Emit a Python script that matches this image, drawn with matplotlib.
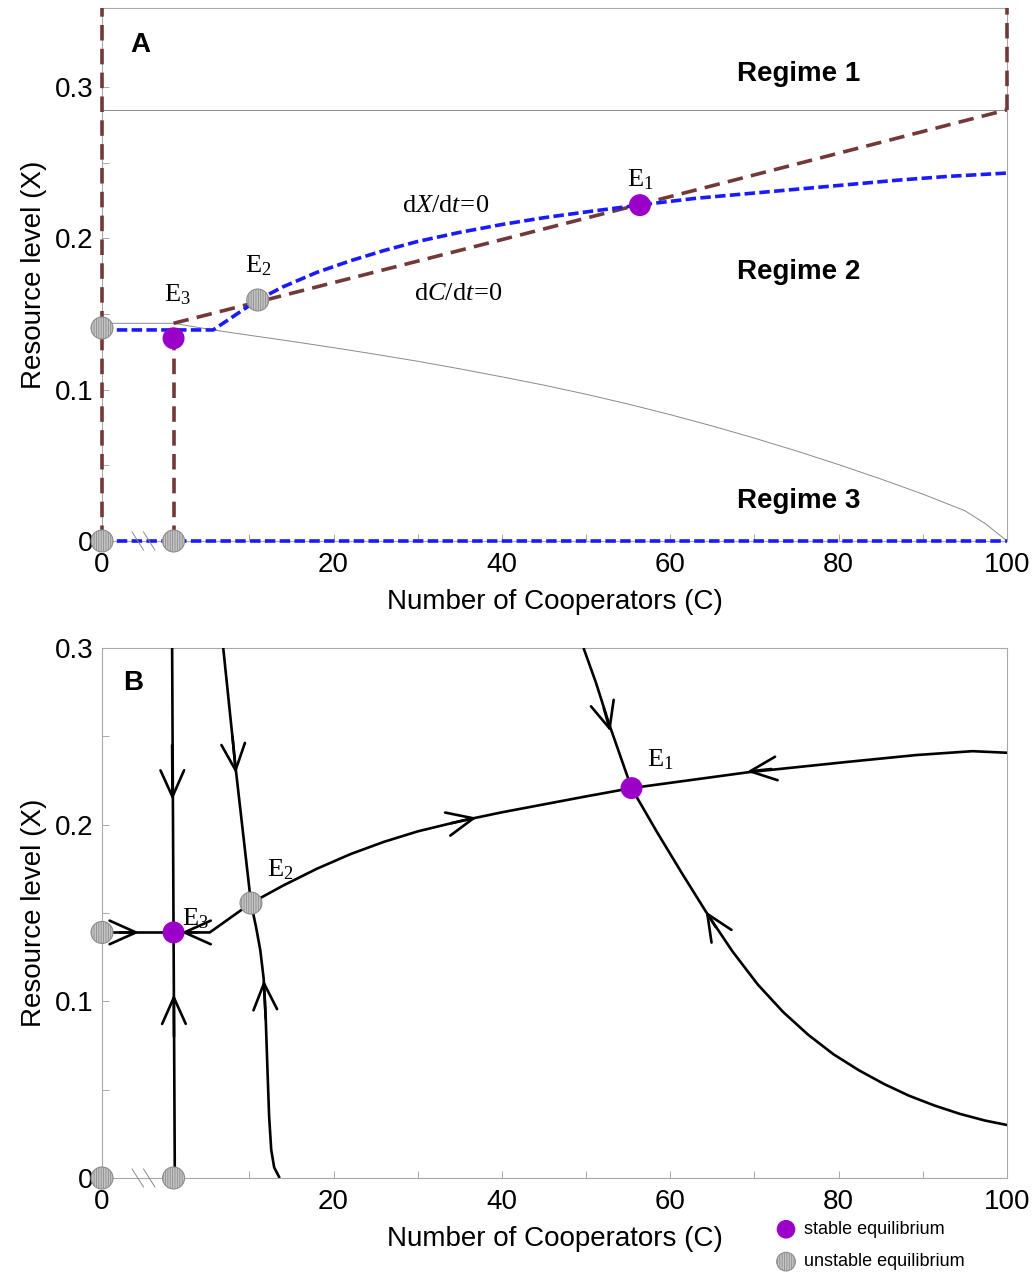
import numpy as np
import matplotlib
matplotlib.use('Agg')
import matplotlib.pyplot as plt

plt.rcParams['font.family'] = ['Liberation Sans', 'DejaVu Sans']
plt.rcParams['mathtext.fontset'] = 'custom'
plt.rcParams['mathtext.rm'] = 'Liberation Serif'
plt.rcParams['mathtext.it'] = 'Liberation Serif:italic'
plt.rcParams['hatch.linewidth'] = 0.6

# ---------------- data ----------------
# panel A: nullclines
dcdt_C = [1, 11.0, 56.4, 100]
dcdt_X = [0.1439, 0.158, 0.2225, 0.285]

dxdt_C = [0, 1, 5.7, 11.0, 14, 18, 22, 26, 30, 35, 40, 45, 50, 56.4,
          63, 70, 75, 80, 87, 93, 100]
dxdt_X = [0.1395, 0.1395, 0.1395, 0.1593, 0.1680, 0.1775, 0.1852, 0.1920,
          0.1980, 0.2040, 0.2092, 0.2137, 0.2175, 0.2221, 0.2265, 0.2300,
          0.2325, 0.2350, 0.2385, 0.2410, 0.2432]

bound_C = [0, 1, 5.7, 10, 15, 20, 25, 30, 35, 40, 45, 50, 55, 60, 65, 70,
           75, 80, 85, 90, 95, 97.5, 100]
bound_X = [0.1439, 0.1439, 0.1395, 0.1360, 0.1320, 0.1278, 0.1234, 0.1188,
           0.1138, 0.1085, 0.1030, 0.0970, 0.0905, 0.0835, 0.0760, 0.0680,
           0.0595, 0.0505, 0.0410, 0.0310, 0.0200, 0.0112, 0.0]
regime12_X = 0.285

# panel A equilibria
stableA_C = [1, 56.4]
stableA_X = [0.134, 0.222]
unstableA_C = [0, 0, 1, 11.0]
unstableA_X = [0.1408, 0.0, 0.0, 0.1593]

# panel B trajectories
tr_left_C, tr_left_X = [0, 1], [0.139, 0.139]
tr_e3e2_C, tr_e3e2_X = [1, 5.3, 10.2], [0.139, 0.139, 0.1556]
tr_vert_C, tr_vert_X = [0.98, 1.0, 1.15], [0.3, 0.139, 0.0]
tr_e2v_C = [6.9, 8.4, 10.2, 10.8, 11.3, 11.7, 11.95, 12.15, 12.35, 12.6,
            12.95, 13.6]
tr_e2v_X = [0.3, 0.231, 0.1556, 0.1420, 0.1290, 0.1130, 0.0900, 0.0620,
            0.0350, 0.0160, 0.0060, 0.0]
tr_e2e1_C = [10.2, 14, 18, 22, 26, 30, 35, 40, 45, 50, 55.4]
tr_e2e1_X = [0.1556, 0.1655, 0.1750, 0.1833, 0.1903, 0.1962, 0.2020, 0.2070,
             0.2115, 0.2160, 0.2207]
tr_right_C = [100, 95.9, 89.2, 81.2, 69.3, 55.4]
tr_right_X = [0.2407, 0.2416, 0.2394, 0.2356, 0.2297, 0.2207]
tr_top_C = [49.7, 51.2, 52.7, 55.4]
tr_top_X = [0.3, 0.28, 0.2575, 0.2207]
tr_low_C = [55.4, 58.4, 61.4, 64.4, 67.4, 70.4, 73.4, 76.4, 79.4, 82.4,
            85.4, 88.4, 91.4, 94.4, 97.4, 100]
tr_low_X = [0.2207, 0.1960, 0.1724, 0.1495, 0.1282, 0.1095, 0.0940, 0.0810,
            0.0700, 0.0610, 0.0532, 0.0465, 0.0410, 0.0363, 0.0325, 0.0300]

# arrows: tail C, tail X, head C, head X
arrows = [
    (0.98, 0.245, 0.985, 0.214),
    (1.05, 0.08, 1.03, 0.104),
    (0.25, 0.139, 0.52, 0.139),
    (3.8, 0.139, 1.9, 0.139),
    (8.0, 0.25, 8.4, 0.229),
    (11.95, 0.09, 11.72, 0.112),
    (34.0, 0.2008, 37.0, 0.2040),
    (72.0, 0.2315, 69.1, 0.2300),
    (52.1, 0.266, 52.9, 0.2527),
    (65.4, 0.1420, 64.2, 0.1510),
]

stableB_C = [1, 55.4]
stableB_X = [0.139, 0.2207]
unstableB_C = [0, 0, 1, 10.2]
unstableB_X = [0.139, 0.0, 0.0, 0.1556]

x_ticks = [0, 20, 40, 60, 80, 100]
x_minor = [10, 30, 50, 70, 90]
y_ticks = [0, 0.1, 0.2, 0.3]
y_ticklabels = ['0', '0.1', '0.2', '0.3']
y_minor = [0.05, 0.15, 0.25]

# ---------------- styles ----------------
BROWN = '#733838'
BLUE = '#1a1aff'
PURPLE = '#9a00c8'
GREY = '#8a8a8a'
SPINE = '#a8a8a8'

# broken x axis: the 0..1 stretch is widened
K = 8.5


def fwd(c):
    c = np.asarray(c, dtype=float)
    return np.where(c <= 1, K * c, K + c - 1)


def inv(v):
    v = np.asarray(v, dtype=float)
    return np.where(v <= K, v / K, v - K + 1)


def style_axes(ax, ytop):
    ax.set_xscale('function', functions=(fwd, inv))
    ax.set_xlim(0, 100)
    ax.set_ylim(0, ytop)
    ax.set_xticks(x_ticks)
    ax.set_xticklabels([str(t) for t in x_ticks])
    ax.set_xticks(x_minor, minor=True)
    ax.set_yticks(y_ticks)
    ax.set_yticklabels(y_ticklabels)
    ax.set_yticks(y_minor, minor=True)
    ax.tick_params(which='both', direction='in', color=SPINE, width=0.7,
                   labelsize=20, length=5)
    ax.tick_params(axis='x', pad=8)
    ax.tick_params(axis='y', pad=6)
    for s in ax.spines.values():
        s.set_color(SPINE)
        s.set_linewidth(0.8)
    ax.set_xlabel('Number of Cooperators (C)', fontsize=20, labelpad=8)
    ax.set_ylabel('Resource level (X)', fontsize=20, labelpad=6)
    # axis break marks
    for c0 in (0.42, 0.58):
        ax.plot([c0, c0 + 0.16], [ytop * 0.017, -ytop * 0.017], color=GREY,
                lw=0.7, clip_on=False, zorder=6)


def equilibria(ax, sc, sx, uc, ux, labels=True):
    ax.scatter(uc, ux, s=250, facecolor='#c4c4c4', edgecolor='#8c8c8c',
               hatch='|||||||', linewidths=0.8, zorder=10, clip_on=False,
               label='unstable equilibrium' if labels else None)
    ax.scatter(sc, sx, s=250, color=PURPLE, edgecolor='none', zorder=11,
               clip_on=False, label='stable equilibrium' if labels else None)


fig = plt.figure(figsize=(10.35, 12.79), dpi=100)
axA = fig.add_axes([102 / 1035, 1 - 541 / 1279, 905 / 1035, 533 / 1279])
axB = fig.add_axes([102 / 1035, 1 - 1178 / 1279, 905 / 1035, 530 / 1279])

# ---------------- panel A ----------------
topA = 0.3523
style_axes(axA, topA)
axA.axhline(regime12_X, color=GREY, lw=0.7, zorder=2)
axA.plot(bound_C, bound_X, color=GREY, lw=0.7, zorder=2)
axA.plot([0, 100], [0, 0], color=BLUE, lw=2.6, dashes=(2.9, 1.2), zorder=4,
         clip_on=False)
axA.plot(dxdt_C, dxdt_X, color=BLUE, lw=2.6, dashes=(2.9, 1.2), zorder=4)
axA.plot(dcdt_C, dcdt_X, color=BROWN, lw=2.6, dashes=(4.3, 2.3), zorder=3)
axA.plot([0, 0], [0, topA], color=BROWN, lw=2.6, dashes=(4.3, 2.3), zorder=3,
         clip_on=False)
axA.plot([1, 1], [0, stableA_X[0]], color=BROWN, lw=2.6, dashes=(4.3, 2.3),
         zorder=3)
axA.plot([100, 100], [regime12_X, topA], color=BROWN, lw=2.6,
         dashes=(4.3, 2.3), zorder=3, clip_on=False)
equilibria(axA, stableA_C, stableA_X, unstableA_C, unstableA_X, labels=False)

serif = dict(fontsize=19, ha='center', va='center')
axA.text(56.4, 0.2386, r'$\mathrm{E}_1$', **serif)
axA.text(11.1, 0.1818, r'$\mathrm{E}_2$', **serif)
axA.text(1.5, 0.1626, r'$\mathrm{E}_3$', **serif)
axA.text(33.3, 0.222, r'$\mathrm{d}X/\mathrm{d}t\!=\!0$', **serif)
axA.text(34.8, 0.164, r'$\mathrm{d}C/\mathrm{d}t\!=\!0$', **serif)
for lbl, y in [('Regime 1', 0.309), ('Regime 2', 0.1778), ('Regime 3', 0.0264)]:
    axA.text(75.3, y, lbl, fontsize=20, fontweight='bold', ha='center',
             va='center')
axA.text(0.042, 0.93, 'A', transform=axA.transAxes, fontsize=20,
         fontweight='bold', ha='center', va='center')

# ---------------- panel B ----------------
style_axes(axB, 0.3)
for cc, xx in [(tr_left_C, tr_left_X), (tr_e3e2_C, tr_e3e2_X),
               (tr_vert_C, tr_vert_X), (tr_e2v_C, tr_e2v_X),
               (tr_e2e1_C, tr_e2e1_X), (tr_right_C, tr_right_X),
               (tr_top_C, tr_top_X), (tr_low_C, tr_low_X)]:
    axB.plot(cc, xx, color='black', lw=1.9, zorder=4,
             solid_capstyle='butt', solid_joinstyle='round')
for tc, tx, hc, hx in arrows:
    axB.annotate('', xy=(hc, hx), xytext=(tc, tx),
                 arrowprops=dict(arrowstyle='->,head_length=1.9,head_width=0.85',
                                 color='black', lw=1.9, shrinkA=0, shrinkB=0),
                 zorder=5)
equilibria(axB, stableB_C, stableB_X, unstableB_C, unstableB_X)
axB.text(58.8, 0.2366, r'$\mathrm{E}_1$', **serif)
axB.text(13.7, 0.1743, r'$\mathrm{E}_2$', **serif)
axB.text(3.6, 0.147, r'$\mathrm{E}_3$', **serif)
axB.text(0.034, 0.934, 'B', transform=axB.transAxes, fontsize=20,
         fontweight='bold', ha='center', va='center')

h, l = axB.get_legend_handles_labels()
leg = fig.legend(h[::-1], l[::-1], loc='upper left',
                 bbox_to_anchor=(777 / 1035, 1 - 1221 / 1279),
                 frameon=False, fontsize=13, handlelength=1.0,
                 handletextpad=0.5, borderpad=0, borderaxespad=0,
                 labelspacing=0.85, markerscale=0.85)

fig.savefig('out.png', dpi=100)
